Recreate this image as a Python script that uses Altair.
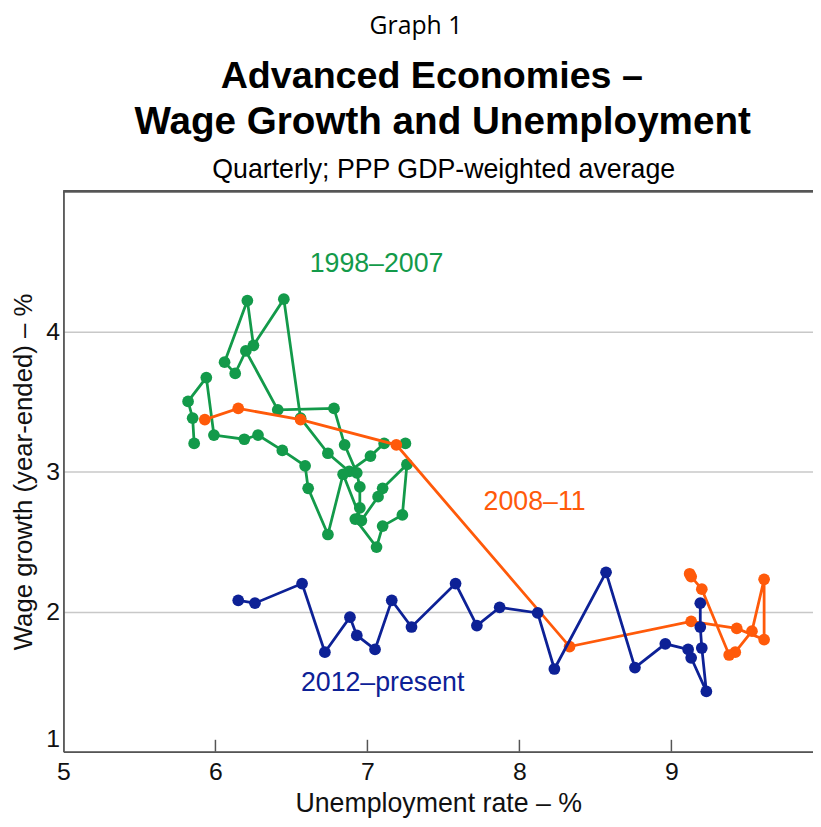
import altair as alt
import pandas as pd

# ---- data ----
green_x = [7.25, 7.11, 7.02, 6.88, 6.74, 6.56, 6.45, 6.25, 6.21, 6.06, 6.13, 6.20, 6.41, 6.78,
           6.85, 6.93, 6.95, 6.95, 6.92, 7.06, 7.10, 7.23, 7.26, 7.10, 7.07, 6.96, 6.84, 6.74,
           6.61, 6.59, 6.44, 6.28, 6.19, 5.99, 5.94, 5.82, 5.85, 5.86]
green_y = [3.20, 3.20, 3.11, 3.00, 3.13, 3.38, 4.23, 3.90, 4.22, 3.78, 3.70, 3.86, 3.44, 3.45,
           3.19, 2.99, 2.89, 2.74, 2.66, 2.46, 2.61, 2.69, 3.05, 2.88, 2.82, 2.65, 2.98, 2.55,
           2.88, 3.04, 3.15, 3.26, 3.23, 3.26, 3.67, 3.50, 3.38, 3.20]

orange_x = [5.93, 6.15, 6.56, 7.19, 8.33, 9.13, 9.43, 9.61, 9.61, 9.53, 9.42, 9.38, 9.20, 9.13, 9.12]
orange_y = [3.37, 3.45, 3.37, 3.19, 1.75, 1.93, 1.88, 1.80, 2.23, 1.86, 1.71, 1.69, 2.16, 2.25, 2.27]

blue_x = [9.19, 9.19, 9.20, 9.23, 9.13, 9.11, 8.96, 8.76, 8.57, 8.23, 8.12, 7.87, 7.72, 7.58,
          7.29, 7.16, 7.05, 6.93, 6.885, 6.72, 6.57, 6.26, 6.15]
blue_y = [2.06, 1.89, 1.74, 1.43, 1.67, 1.73, 1.77, 1.60, 2.28, 1.59, 1.99, 2.03, 1.90, 2.20,
          1.89, 2.08, 1.73, 1.83, 1.96, 1.71, 2.20, 2.06, 2.08]

series_names = ["1998–2007", "2008–11", "2012–present"]
series_colors = ["#139a4a", "#ff5a0a", "#0d2196"]

label_x = [7.06, 8.10, 7.10]
label_y = [4.48, 2.78, 1.49]

x_ticks = [5, 6, 7, 8, 9]
y_ticks = [1, 2, 3, 4]

W, H = 757, 566
XMAX = 5 + W / 153.5

rows = []
for name, xs, ys in zip(series_names, [green_x, orange_x, blue_x], [green_y, orange_y, blue_y]):
    for i, (a, b) in enumerate(zip(xs, ys)):
        rows.append({"series": name, "u": a, "w": b, "t": i})
df = pd.DataFrame(rows)

lab = pd.DataFrame({"series": series_names, "u": label_x, "w": label_y})

xs = alt.Scale(domain=[5, XMAX], nice=False, zero=False)
ys = alt.Scale(domain=[1, 5], nice=False, zero=False)
col = alt.Scale(domain=series_names, range=series_colors)

FONT = "Liberation Sans"

base = alt.Chart(df)

layers = []
for name in series_names:
    sub = base.transform_filter(alt.datum.series == name)
    line = sub.mark_line(strokeWidth=2.8, clip=True).encode(
        x=alt.X("u:Q", scale=xs,
                axis=alt.Axis(values=x_ticks, format="d", title="Unemployment rate – %", grid=False,
                              ticks=False, labelFlush=False, labelFontSize=25,
                              labelPadding=8, titleFontSize=27, titlePadding=6,
                              titleFontWeight="normal", labelColor="#111", titleColor="#111",
                              domainColor="#555", domainWidth=1.8, labelFont=FONT, titleFont=FONT)),
        y=alt.Y("w:Q", scale=ys,
                axis=alt.Axis(values=y_ticks, format="d", title="Wage growth (year-ended) – %", grid=True,
                              gridColor="#c8c8c8", gridWidth=1.5, ticks=False, labelFlush=True,
                              labelFontSize=25, labelPadding=4, titleFontSize=26, titlePadding=9,
                              titleFontWeight="normal", labelColor="#111", titleColor="#111",
                              domainColor="#555", domainWidth=1.8, labelFont=FONT, titleFont=FONT)),
        order="t:Q",
        color=alt.Color("series:N", scale=col, legend=None),
    )
    pts = sub.mark_circle(size=140, opacity=1).encode(
        x=alt.X("u:Q", scale=xs), y=alt.Y("w:Q", scale=ys),
        color=alt.Color("series:N", scale=col, legend=None),
    )
    layers += [line, pts]

labels = alt.Chart(lab).mark_text(fontSize=27, font=FONT).encode(
    x=alt.X("u:Q", scale=xs), y=alt.Y("w:Q", scale=ys),
    text="series:N",
    color=alt.Color("series:N", scale=col, legend=None),
)

tick_df = pd.DataFrame({"v": x_ticks[1:]})
xticks = alt.Chart(tick_df).mark_rule(color="#555", strokeWidth=1.5).encode(
    x=alt.X("v:Q", scale=xs), y=alt.value(H), y2=alt.value(H - 12))

top_border = alt.Chart(tick_df).mark_rule(color="#555", strokeWidth=1.8).encode(
    x=alt.value(0), x2=alt.value(W + 10), y=alt.value(0))

def txt(s, x, y, size, weight="normal", font=FONT):
    return alt.Chart(pd.DataFrame({"s": [s]})).mark_text(
        fontSize=size, fontWeight=weight, font=font, color="#000", align="center",
        baseline="middle").encode(text="s:N", x=alt.value(x), y=alt.value(y))

titles = [
    txt("Graph 1", 356, -167, 25, font="Open Sans"),
    txt("Advanced Economies –", 372, -115, 38, weight="bold"),
    txt("Wage Growth and Unemployment", 383, -70, 39, weight="bold"),
    txt("Quarterly; PPP GDP-weighted average", 384, -21, 27),
]

chart = alt.layer(top_border, xticks, *layers, labels, *titles).properties(
    width=W, height=H,
    autosize=alt.AutoSizeParams(type="none"),
    padding={"left": 56, "top": 181, "right": 0, "bottom": 72},
).configure_view(stroke=None).configure(background="white")

chart.save("out.html", embed_options={"renderer": "svg", "actions": False})
